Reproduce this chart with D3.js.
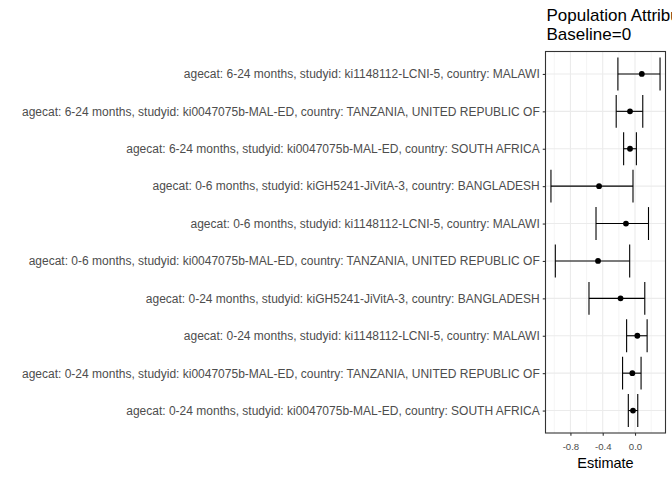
<!DOCTYPE html>
<html><head><meta charset="utf-8">
<script src="https://cdn.jsdelivr.net/npm/d3@7"></script>
<style>body{margin:0;background:#fff}svg{display:block}text{font-family:"Liberation Sans",Arial,sans-serif}</style>
</head><body><svg id="c" width="672" height="480"></svg>
<script>
const categories = [
  "agecat: 6-24 months, studyid: ki1148112-LCNI-5, country: MALAWI",
  "agecat: 6-24 months, studyid: ki0047075b-MAL-ED, country: TANZANIA, UNITED REPUBLIC OF",
  "agecat: 6-24 months, studyid: ki0047075b-MAL-ED, country: SOUTH AFRICA",
  "agecat: 0-6 months, studyid: kiGH5241-JiVitA-3, country: BANGLADESH",
  "agecat: 0-6 months, studyid: ki1148112-LCNI-5, country: MALAWI",
  "agecat: 0-6 months, studyid: ki0047075b-MAL-ED, country: TANZANIA, UNITED REPUBLIC OF",
  "agecat: 0-24 months, studyid: kiGH5241-JiVitA-3, country: BANGLADESH",
  "agecat: 0-24 months, studyid: ki1148112-LCNI-5, country: MALAWI",
  "agecat: 0-24 months, studyid: ki0047075b-MAL-ED, country: TANZANIA, UNITED REPUBLIC OF",
  "agecat: 0-24 months, studyid: ki0047075b-MAL-ED, country: SOUTH AFRICA"
];
const estimate = [0.084, -0.062, -0.062, -0.445, -0.112, -0.458, -0.179, 0.029, -0.033, -0.025];
const ciLower  = [-0.212, -0.233, -0.141, -1.041, -0.483, -0.987, -0.570, -0.104, -0.154, -0.083];
const ciUpper  = [0.310, 0.096, 0.017, -0.025, 0.167, -0.066, 0.121, 0.150, 0.075, 0.034];
const xTicks = [-0.8, -0.4, 0.0];
const xTickLabels = ["-0.8", "-0.4", "0.0"];
const xMinor = [-1.0, -0.6, -0.2, 0.2];
const titleLines = ["Population Attributable Difference", "Baseline=0"];
const xTitle = "Estimate";

const svg = d3.select("#c");
const L = 545.5, R = 665.5, T = 51.5, B = 433;
const lo = d3.min(ciLower), hi = d3.max(ciUpper), pad = (hi - lo) * 0.05;
const x = d3.scaleLinear().domain([lo - pad, hi + pad]).range([L, R]);
const y = d3.scalePoint().domain(categories).range([T, B]).padding(0.6);
const step = y.step();

// grid
const g = svg.append("g");
g.selectAll(".mn").data(xMinor).join("line")
  .attr("x1", d => x(d)).attr("x2", d => x(d)).attr("y1", T).attr("y2", B)
  .attr("stroke", "#ebebeb").attr("stroke-width", 0.55);
g.selectAll(".mj").data(xTicks).join("line")
  .attr("x1", d => x(d)).attr("x2", d => x(d)).attr("y1", T).attr("y2", B)
  .attr("stroke", "#ebebeb").attr("stroke-width", 1.1);
g.selectAll(".hy").data(categories).join("line")
  .attr("x1", L).attr("x2", R).attr("y1", d => y(d)).attr("y2", d => y(d))
  .attr("stroke", "#ebebeb").attr("stroke-width", 1.1);

// error bars
const rows = categories.map((c, i) => ({c, e: estimate[i], l: ciLower[i], u: ciUpper[i]}));
const eb = svg.append("g").attr("stroke", "#000").attr("stroke-width", 1.1);
rows.forEach(r => {
  const yy = y(r.c), h = step * 0.44;
  eb.append("line").attr("x1", x(r.l)).attr("x2", x(r.u)).attr("y1", yy).attr("y2", yy);
  eb.append("line").attr("x1", x(r.l)).attr("x2", x(r.l)).attr("y1", yy - h).attr("y2", yy + h);
  eb.append("line").attr("x1", x(r.u)).attr("x2", x(r.u)).attr("y1", yy - h).attr("y2", yy + h);
});
svg.append("g").selectAll("circle").data(rows).join("circle")
  .attr("cx", d => x(d.e)).attr("cy", d => y(d.c)).attr("r", 2.9).attr("fill", "#000");

// border
svg.append("rect").attr("x", L).attr("y", T).attr("width", R - L).attr("height", B - T)
  .attr("fill", "none").attr("stroke", "#333333").attr("stroke-width", 1.1);

// axes
const xa = svg.append("g").attr("transform", `translate(0,${B})`)
  .call(d3.axisBottom(x).tickValues(xTicks).tickFormat((d, i) => xTickLabels[i]).tickSizeOuter(0).tickSize(2.75).tickPadding(7));
xa.select(".domain").remove();
xa.selectAll("line").attr("stroke", "#333333").attr("stroke-width", 1.1);
xa.selectAll("text").attr("fill", "#4d4d4d").attr("font-size", "9.6px").attr("font-family", "Liberation Sans, Arial, sans-serif");

const ya = svg.append("g").attr("transform", `translate(${L},0)`)
  .call(d3.axisLeft(y).tickSizeOuter(0).tickSize(2.75).tickPadding(3));
ya.select(".domain").remove();
ya.selectAll("line").attr("stroke", "#333333").attr("stroke-width", 1.1);
ya.selectAll("text").attr("fill", "#4d4d4d").attr("font-size", "12px").attr("font-family", "Liberation Sans, Arial, sans-serif");

svg.append("text").attr("x", (L + R) / 2).attr("y", 467.5).attr("text-anchor", "middle")
  .attr("font-size", "14.5px").attr("fill", "#000").text(xTitle);
svg.selectAll(".tt").data(titleLines).join("text")
  .attr("x", 546.5).attr("y", (d, i) => 21 + i * 18.5)
  .attr("font-size", "17px").attr("fill", "#000").text(d => d);
</script></body></html>
